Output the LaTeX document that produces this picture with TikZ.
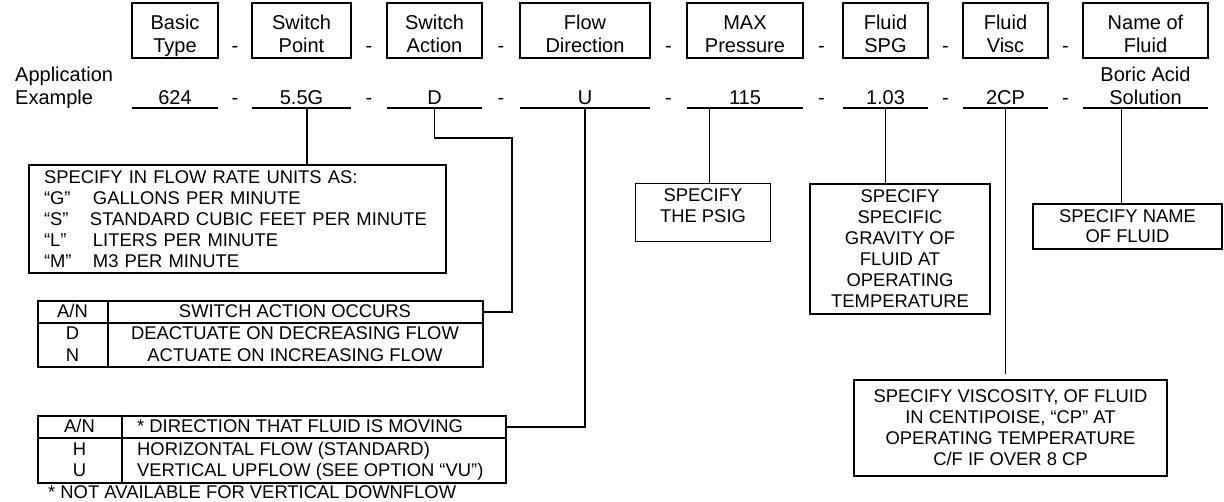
\documentclass[tikz,border=0pt]{standalone}
\usepackage{fontspec}
\setmainfont{Liberation Sans}

\tikzset{
  big/.style={font=\fontsize{20}{23}\selectfont},
  small/.style={font=\fontsize{18.4}{21}\selectfont},
  hdrbox/.style={draw, line width=2pt, big, inner sep=0pt, text height=50pt, text depth=5pt, anchor=base},
  valbox/.style={big, inner sep=0pt, text depth=3pt, anchor=base},
  note/.style={draw, line width=2pt, small, inner sep=0pt, align=center, anchor=north west},
  tabrow/.style={draw, line width=2pt, inner sep=0pt, anchor=north west},
  cell/.style={small, inner sep=0pt, anchor=base},
  conn/.style={line width=1.7pt},
  uline/.style={line width=2pt}
}
\newcommand{\twolines}[2][c]{\begin{tabular}[b]{@{}#1@{}}#2\end{tabular}}

\begin{document}
\begin{tikzpicture}[x=1pt, y=-1pt]
\useasboundingbox (0,0) rectangle (1224,502);

\foreach \xl/\xr/\hA/\hB/\val [count=\i] in {132/218/Basic/Type/624, 252/351/Switch/Point/5.5G,
    387/482/Switch/Action/D, 520/650/Flow/Direction/U, 687/803/MAX/Pressure/115,
    843/928/Fluid/SPG/1.03, 963/1048/Fluid/Visc/2CP,
    1083/1208/Name of/Fluid/{\twolines{Boric Acid\\Solution}}} {
  \pgfmathsetmacro\fw{\xr-\xl}
  \pgfmathsetmacro\cx{(\xl+\xr)/2}
  \node[hdrbox, minimum width=\fw pt] (h\i) at (\cx,53) {\twolines{\hA\\\hB}};
  \node[valbox, minimum width=\fw pt] (v\i) at (\cx,105) {\val};
  \draw[uline] (v\i.south west) -- (v\i.south east);
}
\foreach \x [count=\k] in {235,369,501,668.5,821.5,945.5,1065.5} {
  \node[big, anchor=base, inner sep=0pt] (hd\k) at (\x,53) {-};
  \node[big, anchor=base, inner sep=0pt] (vd\k) at (\x,105) {-};
}
\node[big, anchor=base west, inner sep=0pt] (app) at (15,105) {\twolines[l]{Application\\Example}};

\node[note, align=left, text width=387pt, inner xsep=15pt, minimum height=108pt] (units) at (28,164)
  {SPECIFY IN FLOW RATE UNITS AS:\\
   \makebox[49pt][l]{“G”}GALLONS PER MINUTE\\
   \makebox[46pt][l]{“S”}STANDARD CUBIC FEET PER MINUTE\\
   \makebox[49pt][l]{“L”}LITERS PER MINUTE\\
   \makebox[49pt][l]{“M”}M3 PER MINUTE};
\node[note, line width=1pt, minimum width=135pt, text height=18pt, text depth=40pt] (psig) at (635,183)
  {\begin{tabular}[t]{@{}c@{}}SPECIFY\\THE PSIG\end{tabular}};
\node[note, minimum width=180pt, minimum height=130pt] (spg) at (809,183)
  {SPECIFY\\SPECIFIC\\GRAVITY OF\\FLUID AT\\OPERATING\\TEMPERATURE};
\node[note, font=\fontsize{18.4}{20}\selectfont, minimum width=189pt, minimum height=45pt] (fname) at (1032,203)
  {SPECIFY NAME\\OF FLUID};
\node[note, minimum width=313pt, minimum height=96pt] (visc) at (853,379)
  {SPECIFY VISCOSITY, OF FLUID\\IN CENTIPOISE, “CP” AT\\OPERATING TEMPERATURE\\C/F IF OVER 8 CP};

\node[tabrow, minimum width=445pt, minimum height=22pt] (acthdr) at (37,300) {};
\node[tabrow, minimum width=445pt, minimum height=44pt] (actbody) at (37,322) {};
\draw[line width=2pt] (108,300) -- (108,366);
\node[cell] (acta) at (72.5,317.5) {A/N};
\node[cell] (actb) at (295,317.5) {SWITCH ACTION OCCURS};
\node[cell] (actc) at (72.5,339.5) {D};
\node[cell] (actd) at (295,339.5) {DEACTUATE ON DECREASING FLOW};
\node[cell] (acte) at (72.5,361.5) {N};
\node[cell] (actf) at (295,361.5) {ACTUATE ON INCREASING FLOW};

\node[tabrow, minimum width=468pt, minimum height=22pt] (dirhdr) at (37,415) {};
\node[tabrow, minimum width=468pt, minimum height=45pt] (dirbody) at (37,437) {};
\draw[line width=2pt] (122,415) -- (122,482);
\node[cell] (dira) at (79.5,432.5) {A/N};
\node[cell, anchor=base west] (dirb) at (137,432.5) {* DIRECTION THAT FLUID IS MOVING};
\node[cell] (dirc) at (79.5,455.5) {H};
\node[cell, anchor=base west] (dird) at (137,455.5) {HORIZONTAL FLOW (STANDARD)};
\node[cell] (dire) at (79.5,477) {U};
\node[cell, anchor=base west] (dirf) at (137,477) {VERTICAL UPFLOW (SEE OPTION “VU”)};
\node[small, anchor=base west, inner sep=0pt] (foot) at (48,498) {* NOT AVAILABLE FOR VERTICAL DOWNFLOW};

\coordinate (dbend) at (512,138);
\draw[conn] ([xshift=5.5pt]v2.south) -- ([xshift=5.5pt]v2.south |- units.north);
\draw[conn] (v3.south) |- (dbend) |- (acthdr.east);
\draw[conn] (v4.south) |- (dirhdr.east);
\draw[conn] ([xshift=6.5pt]psig.north) -- ([xshift=6.5pt]psig.north |- v5.south);
\draw[conn] (v6.south) -- (v6.south |- spg.north);
\draw[conn, shorten >=5pt] (v7.south) -- (v7.south |- visc.north);
\draw[conn] ([xshift=-6pt]fname.north) -- ([xshift=-6pt]fname.north |- v8.south);
\end{tikzpicture}
\end{document}
